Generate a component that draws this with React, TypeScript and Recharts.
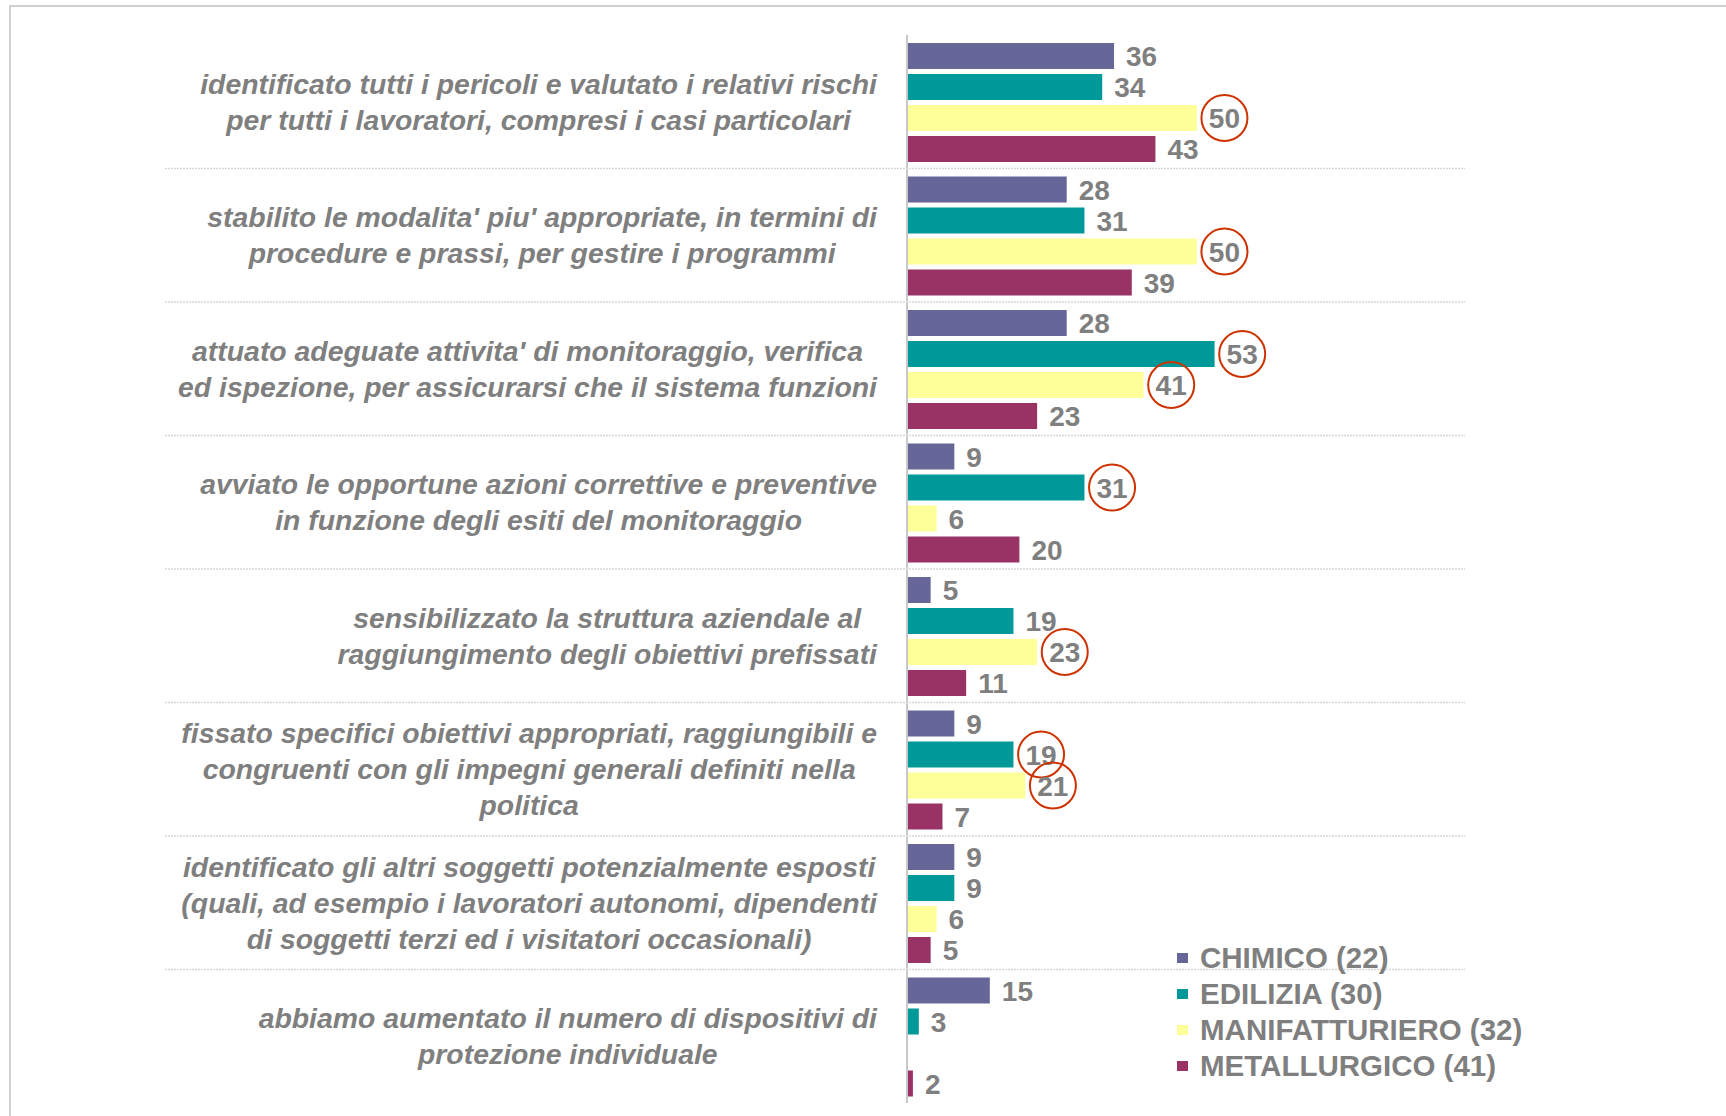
import { BarChart, Bar, XAxis, YAxis, LabelList } from "recharts";

const categories = [
  "identificato tutti i pericoli e valutato i relativi rischi\nper tutti i lavoratori, compresi i casi particolari",
  "stabilito le modalita' piu' appropriate, in termini di\nprocedure e prassi, per gestire i programmi",
  "attuato adeguate attivita' di monitoraggio, verifica\ned ispezione, per assicurarsi che il sistema funzioni",
  "avviato le opportune azioni correttive e preventive\nin funzione degli esiti del monitoraggio",
  "sensibilizzato la struttura aziendale al\nraggiungimento degli obiettivi prefissati",
  "fissato specifici obiettivi appropriati, raggiungibili e\ncongruenti con gli impegni generali definiti nella\npolitica",
  "identificato gli altri soggetti potenzialmente esposti\n(quali, ad esempio i lavoratori autonomi, dipendenti\ndi soggetti terzi ed i visitatori occasionali)",
  "abbiamo aumentato il numero di dispositivi di\nprotezione individuale",
];

const chimico = [36, 28, 28, 9, 5, 9, 9, 15];
const edilizia = [34, 31, 53, 31, 19, 19, 9, 3];
const manifatturiero = [50, 50, 41, 6, 23, 21, 6, null];
const metallurgico = [43, 39, 23, 20, 11, 7, 5, 2];

// valori evidenziati col cerchio rosso
const circledEdilizia = [false, false, true, true, false, true, false, false];
const circledManifatturiero = [true, true, true, false, true, true, false, false];

const seriesKeys = ["chimico", "edilizia", "manifatturiero", "metallurgico"];
const seriesNames = ["CHIMICO (22)", "EDILIZIA (30)", "MANIFATTURIERO (32)", "METALLURGICO (41)"];
const seriesColors = ["#666699", "#009999", "#ffff99", "#993366"];
const seriesCircled = [null, circledEdilizia, circledManifatturiero, null];

const data = categories.map((name, i) => ({
  name,
  chimico: chimico[i],
  edilizia: edilizia[i],
  manifatturiero: manifatturiero[i],
  metallurgico: metallurgico[i],
}));

const FONT = "'Liberation Sans', Arial, sans-serif";
const TICK_SIZE = 28.4;
const TICK_FONT = `italic bold ${TICK_SIZE}px ${FONT}`;
const GRAY = "#7f7f7f";
const TOP = 35;
const BOTTOM = 13;
const HEIGHT = 1116;
const BAND = (HEIGHT - TOP - BOTTOM) / categories.length;
const LINE_H = 36;
const LABEL_RIGHT = 877;

let ctx: CanvasRenderingContext2D | null = null;
const measure = (s: string) => {
  if (!ctx) ctx = document.createElement("canvas").getContext("2d");
  if (!ctx) return s.length * 13;
  ctx.font = TICK_FONT;
  return ctx.measureText(s).width;
};

const CategoryTick = (props: any) => {
  const { y, payload, index } = props;
  const lines = String(payload.value).split("\n");
  const maxW = Math.max(...lines.map(measure));
  const cx = LABEL_RIGHT - maxW / 2;
  const top = y - ((lines.length - 1) * LINE_H) / 2;
  return (
    <g>
      {index < categories.length - 1 && (
        <line
          x1={165}
          x2={1465}
          y1={y + BAND / 2}
          y2={y + BAND / 2}
          stroke="#d6d6d6"
          strokeWidth={1.5}
          strokeDasharray="2 1"
        />
      )}
      <text
        textAnchor="middle"
        fill={GRAY}
        fontSize={TICK_SIZE}
        fontWeight="bold"
        fontStyle="italic"
        fontFamily={FONT}
      >
        {lines.map((l, i) => (
          <tspan key={i} x={cx} y={top + i * LINE_H} dy="0.36em">
            {l}
          </tspan>
        ))}
      </text>
    </g>
  );
};

const makeLabel = (circled: boolean[] | null) => (props: any) => {
  const { x, y, width, height, value, index } = props;
  if (value == null) return null;
  const tx = x + width + 12;
  const cy = y + height / 2;
  const w = String(value).length * 15.6;
  return (
    <g>
      <text x={tx} y={cy} dy="0.36em" fill={GRAY} fontSize={28} fontWeight="bold" fontFamily={FONT}>
        {value}
      </text>
      {circled && circled[index] && (
        <circle cx={tx + w / 2} cy={cy} r={23} fill="none" stroke="#cc3300" strokeWidth={2} />
      )}
    </g>
  );
};

export default function App() {
  return (
    <div style={{ position: "absolute", left: 0, top: 0, width: 1726, height: HEIGHT, fontFamily: FONT, background: "#fff" }}>
      <div
        style={{
          position: "absolute",
          left: 9,
          top: 5,
          width: 1717,
          height: HEIGHT - 5,
          borderLeft: "2px solid #cfcfcf",
          borderTop: "2px solid #cfcfcf",
        }}
      />
      <BarChart
        width={1726}
        height={HEIGHT}
        data={data}
        layout="vertical"
        margin={{ top: TOP, bottom: BOTTOM, left: 0, right: 470 }}
        barCategoryGap={8}
        barGap={5}
      >
        <XAxis type="number" domain={[1, 60]} allowDataOverflow hide />
        <YAxis
          type="category"
          dataKey="name"
          width={907}
          axisLine={{ stroke: "#c8c8c8", strokeWidth: 2 }}
          tickLine={false}
          tick={CategoryTick}
          interval={0}
        />
        {seriesKeys.map((k, i) => (
          <Bar key={k} dataKey={k} name={seriesNames[i]} fill={seriesColors[i]} isAnimationActive={false}>
            <LabelList dataKey={k} content={makeLabel(seriesCircled[i])} />
          </Bar>
        ))}
      </BarChart>
      <div style={{ position: "absolute", left: 1177, top: 940 }}>
        {seriesNames.map((n, i) => (
          <div
            key={n}
            style={{
              display: "flex",
              alignItems: "center",
              height: 36,
              color: GRAY,
              fontSize: 29.5,
              fontWeight: "bold",
              whiteSpace: "nowrap",
            }}
          >
            <span style={{ width: 11, height: 10, background: seriesColors[i], marginRight: 12 }} />
            {n}
          </div>
        ))}
      </div>
    </div>
  );
}
